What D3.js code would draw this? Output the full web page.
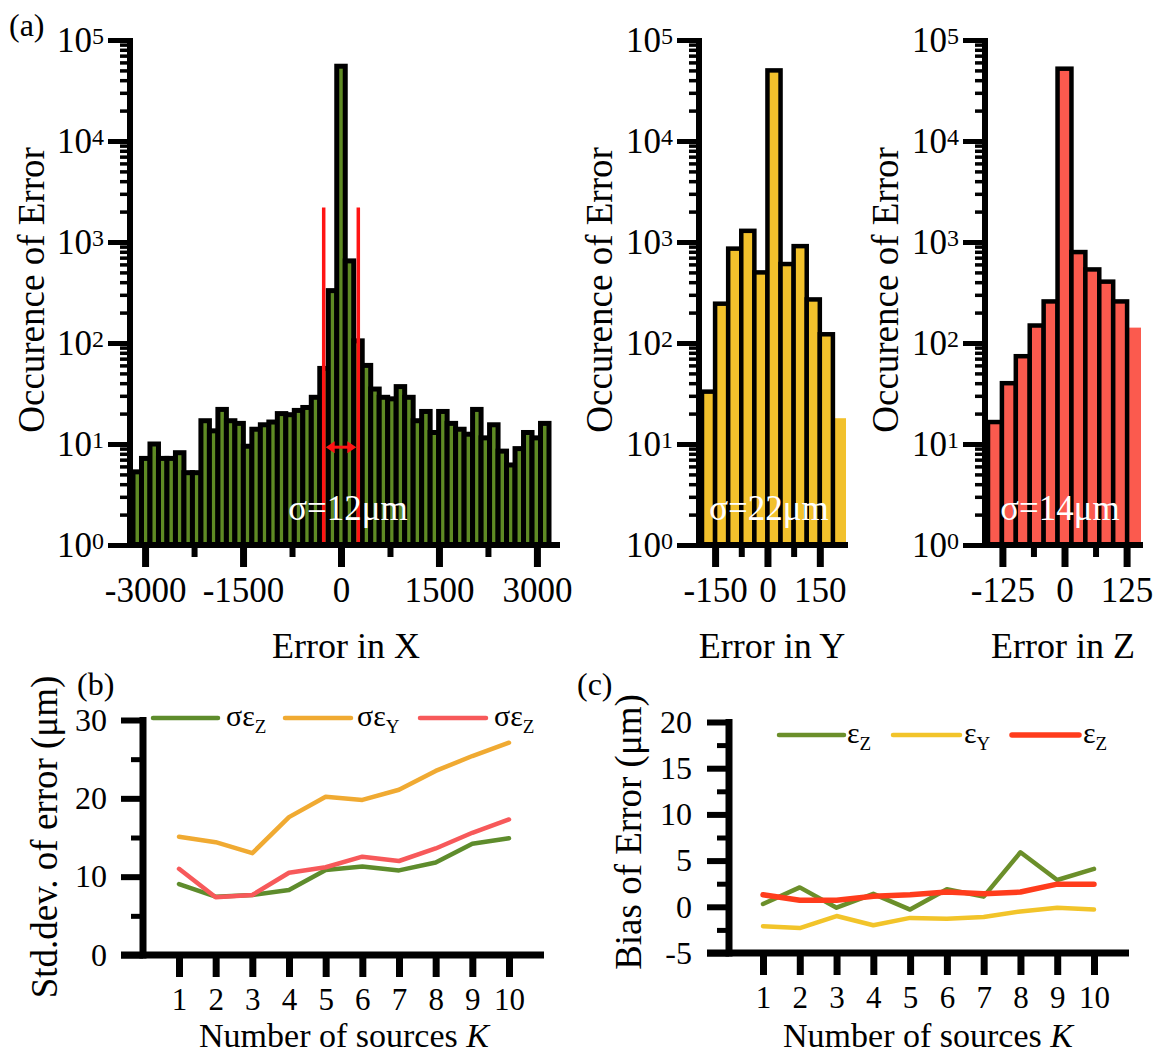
<!DOCTYPE html>
<html><head><meta charset="utf-8">
<script src="https://cdn.jsdelivr.net/npm/d3@7"></script>
<style>
html,body{margin:0;padding:0;background:#fff;}
svg{display:block;}
</style></head><body>
<svg id="chart" width="1170" height="1057"></svg>
<script>
// ---------------- DATA ----------------
const xBinCenters = [-3120,-2990,-2860,-2730,-2600,-2470,-2340,-2210,-2080,-1950,-1820,-1690,-1560,-1430,-1300,-1170,-1040,-910,-780,-650,-520,-390,-260,-130,0,130,260,390,520,650,780,910,1040,1170,1300,1430,1560,1690,1820,1950,2080,2210,2340,2470,2600,2730,2860,2990,3120];
const xCounts = [5.3,7.2,10,7.2,7.2,8.2,5.2,5.2,17,13.5,22,17,16,9.5,14,15.5,16.5,20,19.5,21.5,23,29,56,330,
                 55000,
                 650,105,60,35,29,28,37,29,17,21,13,21,16,14,12.5,22,11.5,15.5,8.5,6.2,9,13,11.5,16];
const xBinWidth = 130;
const yBinCenters = [-168.75,-131.25,-93.75,-56.25,-18.75,18.75,56.25,93.75,131.25,168.75,206.25];
const yCounts = [33,245,860,1290,500,50000,605,910,270,122,18];
const yBinWidth = 37.5;
const zBinCenters = [-140,-112,-84,-56,-28,0,28,56,84,112,140];
const zCounts = [16.5,40,74,149,258,52000,795,535,405,258,142];
const zBinWidth = 28;

const xTickMajor = [-3000,-1500,0,1500,3000];
const xTickMinor = [-2250,-750,750,2250];
const yTickMajor = [-150,0,150];
const yTickMinor = [-75,75];
const zTickMajor = [-125,0,125];
const zTickMinor = [-62.5,62.5];
const logMajor = [1,10,100,1000,10000,100000];
const logMinorMultipliers = [2,3,4,5,6,7,8,9];

const sigmaLinesX = [-265,265];
const sigmaLineTop = 2200;
const sigmaArrowLevel = 9.3;
const sigmaLabels = ["σ=12μm","σ=22μm","σ=14μm"];
const histTitles = ["Error in X","Error in Y","Error in Z"];

const K = [1,2,3,4,5,6,7,8,9,10];
const stdX = [9.06,7.45,7.66,8.3,10.85,11.3,10.8,11.8,14.2,14.9];
const stdY = [15.1,14.4,13.0,17.6,20.2,19.8,21.1,23.5,25.4,27.1];
const stdZ = [11.0,7.36,7.66,10.5,11.2,12.55,12.0,13.6,15.6,17.3];
const biasX = [0.3,2.1,-0.1,1.4,-0.3,1.9,1.1,5.9,2.9,4.1];
const biasY = [-2.1,-2.3,-1.0,-2.0,-1.2,-1.3,-1.1,-0.5,-0.1,-0.3];
const biasZ = [1.3,0.7,0.7,1.15,1.3,1.6,1.4,1.6,2.45,2.45];
const stdTicks = [0,10,20,30];
const stdMinor = [5,15,25];
const biasTicks = [-5,0,5,10,15,20];
const biasMinor = [-2.5,2.5,7.5,12.5,17.5];
const legendSubs = ["Z","Y","Z"];

// ---------------- DRAW ----------------
const SERIF = '"Liberation Serif","Times New Roman",Times,serif';
const svg = d3.select('#chart').attr('font-family', SERIF);
const HB = 545, HT = 40;
const logMinor = logMajor.slice(0,-1).flatMap(d => logMinorMultipliers.map(m => d*m));

function styleAxis(g, sw, fs) {
  g.select('.domain').remove();
  g.attr('font-family', SERIF).attr('font-size', fs);
  g.selectAll('.tick line').attr('stroke', '#000').attr('stroke-width', sw);
  g.selectAll('.tick text').attr('fill', '#000');
}

function histPanel(o) {
  const g = svg.append('g');
  const x = d3.scaleLinear().domain(o.xDomain).range(o.xRange);
  const y = d3.scaleLog().domain([1, 1e5]).range([HB, HT]);
  const n = o.centers.length;
  const data = o.centers.map((c, i) => ({c, v: o.counts[i], i}));
  const ordered = o.lastNoStroke ? [data[n-1]].concat(data.slice(0, n-1)) : data;
  g.selectAll('rect').data(ordered).join('rect')
    .attr('x', d => x(d.c - o.bw/2))
    .attr('width', d => x(d.c + o.bw/2) - x(d.c - o.bw/2))
    .attr('y', d => y(d.v))
    .attr('height', d => y(1) - y(d.v))
    .attr('fill', o.fill)
    .attr('stroke', d => (o.lastNoStroke && d.i === n-1) ? 'none' : '#000')
    .attr('stroke-width', o.sw);

  if (o.sigmaLines) {
    o.sigmaLines.forEach(v => {
      g.append('line').attr('x1', x(v)).attr('x2', x(v))
        .attr('y1', y(1)).attr('y2', y(sigmaLineTop))
        .attr('stroke', '#ff1414').attr('stroke-width', 3.5);
    });
    const ya = y(sigmaArrowLevel), xa = x(o.sigmaLines[0]) + 2, xb = x(o.sigmaLines[1]) - 2;
    g.append('line').attr('x1', xa + 6).attr('x2', xb - 6).attr('y1', ya).attr('y2', ya)
      .attr('stroke', '#ff1414').attr('stroke-width', 3);
    g.append('path').attr('d', `M${xa},${ya} L${xa+9},${ya-6} L${xa+9},${ya+6} Z`).attr('fill', '#ff1414');
    g.append('path').attr('d', `M${xb},${ya} L${xb-9},${ya-6} L${xb-9},${ya+6} Z`).attr('fill', '#ff1414');
  }

  // y axis
  const aMin = g.append('g').attr('transform', `translate(${o.axisX},0)`)
    .call(d3.axisLeft(y).tickValues(logMinor).tickSize(10).tickFormat(''));
  styleAxis(aMin, 3.5, 35);
  const aMaj = g.append('g').attr('transform', `translate(${o.axisX},0)`)
    .call(d3.axisLeft(y).tickValues(logMajor).tickSize(22).tickPadding(4).tickFormat(''));
  styleAxis(aMaj, 5, 35);
  aMaj.selectAll('.tick text').each(function(d) {
    const t = d3.select(this);
    t.text(null);
    t.append('tspan').text('10');
    t.append('tspan').text(Math.round(Math.log10(d))).attr('font-size', 24).attr('dy', '-0.32em');
  });
  g.append('line').attr('x1', o.axisX).attr('x2', o.axisX).attr('y1', y(1e5) - 2).attr('y2', y(1) + 3)
    .attr('stroke', '#000').attr('stroke-width', 6);

  // x axis
  const bMin = g.append('g').attr('transform', `translate(0,${HB})`)
    .call(d3.axisBottom(x).tickValues(o.xMinor).tickSize(12).tickFormat(''));
  styleAxis(bMin, 6, 35);
  const bMaj = g.append('g').attr('transform', `translate(0,${HB})`)
    .call(d3.axisBottom(x).tickValues(o.xMajor).tickSize(22).tickPadding(10).tickFormat(d => String(d)));
  styleAxis(bMaj, 7, 35);
  g.append('line').attr('x1', o.axisX).attr('x2', o.xLineEnd).attr('y1', HB).attr('y2', HB)
    .attr('stroke', '#000').attr('stroke-width', 6);

  // titles
  g.append('text').attr('transform', `translate(${o.yTitleX},290) rotate(-90)`)
    .attr('text-anchor', 'middle').attr('font-size', 37).text('Occurence of Error');
  g.append('text').attr('x', o.xTitleX).attr('y', 658).attr('text-anchor', 'middle')
    .attr('font-size', 36).text(o.xTitle);
  g.append('text').attr('x', o.sigmaX).attr('y', 520).attr('text-anchor', 'middle')
    .attr('font-size', 35).attr('fill', '#fff').text(o.sigma);
}

histPanel({centers: xBinCenters, counts: xCounts, bw: xBinWidth, fill: '#5f8b24', sw: 5,
  xDomain: [-3185, 3185], xRange: [133, 549], axisX: 130, xLineEnd: 560,
  xMajor: xTickMajor, xMinor: xTickMinor, yTitleX: 44, xTitleX: 346, xTitle: histTitles[0],
  sigma: sigmaLabels[0], sigmaX: 348, sigmaLines: sigmaLinesX});
histPanel({centers: yBinCenters, counts: yCounts, bw: yBinWidth, fill: '#f2c12c', sw: 4.5, lastNoStroke: true,
  xDomain: [-187.5, 225], xRange: [702, 846], axisX: 699, xLineEnd: 848,
  xMajor: yTickMajor, xMinor: yTickMinor, yTitleX: 612, xTitleX: 772, xTitle: histTitles[1],
  sigma: sigmaLabels[1], sigmaX: 769});
histPanel({centers: zBinCenters, counts: zCounts, bw: zBinWidth, fill: '#fb5a4e', sw: 4.5, lastNoStroke: true,
  xDomain: [-154, 154], xRange: [988, 1141], axisX: 985, xLineEnd: 1143,
  xMajor: zTickMajor, xMinor: zTickMinor, yTitleX: 898, xTitleX: 1063, xTitle: histTitles[2],
  sigma: sigmaLabels[2], sigmaX: 1060});

function linePanel(o) {
  const g = svg.append('g');
  const x = d3.scaleLinear().domain([1, 10]).range(o.xRange);
  const y = d3.scaleLinear().domain(o.yDomain).range(o.yRange);
  const y0 = o.yRange[0];

  o.series.forEach(s => {
    g.append('path').datum(s.values)
      .attr('d', d3.line().x((d, i) => x(K[i])).y(d => y(d)))
      .attr('fill', 'none').attr('stroke', s.color).attr('stroke-width', s.w)
      .attr('stroke-linejoin', 'round').attr('stroke-linecap', 'round');
  });

  const aMin = g.append('g').attr('transform', `translate(${o.axisX},0)`)
    .call(d3.axisLeft(y).tickValues(o.minor).tickSize(12).tickFormat(''));
  styleAxis(aMin, 5, 32);
  const aMaj = g.append('g').attr('transform', `translate(${o.axisX},0)`)
    .call(d3.axisLeft(y).tickValues(o.major).tickSize(22).tickPadding(o.yPad).tickFormat(d => String(d)));
  styleAxis(aMaj, 6, 32);
  g.append('line').attr('x1', o.axisX).attr('x2', o.axisX).attr('y1', o.yRange[1] - 3).attr('y2', y0 + 3.5)
    .attr('stroke', '#000').attr('stroke-width', 7);

  const bMaj = g.append('g').attr('transform', `translate(0,${y0})`)
    .call(d3.axisBottom(x).tickValues(K).tickSize(22).tickPadding(11).tickFormat(d => String(d)));
  styleAxis(bMaj, 7, 31);
  g.append('line').attr('x1', o.axisX - 22).attr('x2', o.xLineEnd).attr('y1', y0).attr('y2', y0)
    .attr('stroke', '#000').attr('stroke-width', 7);

  // legend
  o.series.forEach((s, i) => {
    const L = o.legend[i];
    g.append('line').attr('x1', L[0]).attr('x2', L[1]).attr('y1', o.legendY).attr('y2', o.legendY)
      .attr('stroke', s.color).attr('stroke-width', s.w).attr('stroke-linecap', 'round');
    const t = g.append('text').attr('x', L[2]).attr('y', o.legendY + 8).attr('font-size', 30);
    t.append('tspan').text(o.legendSym);
    t.append('tspan').text(legendSubs[i]).attr('font-size', 19).attr('dy', 7);
  });

  g.append('text').attr('transform', `translate(${o.yTitleX},${o.yTitleY}) rotate(-90)`)
    .attr('text-anchor', 'middle').attr('font-size', 37).text(o.yTitle);
  const xt = g.append('text').attr('x', o.xTitleX).attr('y', 1047).attr('text-anchor', 'middle').attr('font-size', 34);
  xt.append('tspan').text('Number of sources ');
  xt.append('tspan').attr('font-style', 'italic').text('K');
}

linePanel({xRange: [179, 509], yDomain: [0, 30], yRange: [955, 720], axisX: 143, xLineEnd: 544,
  major: stdTicks, minor: stdMinor, yPad: 14,
  series: [{values: stdX, color: '#5e8c2c', w: 4.5}, {values: stdY, color: '#f0aa32', w: 4.5}, {values: stdZ, color: '#f7595a', w: 4.5}],
  legend: [[153, 218, 226], [285, 351, 357], [420, 486, 494]], legendY: 718, legendSym: 'σε',
  yTitle: 'Std.dev. of error (μm)', yTitleX: 57, yTitleY: 837, xTitleX: 344});

linePanel({xRange: [763, 1094], yDomain: [-5, 20], yRange: [953, 722], axisX: 729, xLineEnd: 1129,
  major: biasTicks, minor: biasMinor, yPad: 15,
  series: [{values: biasX, color: '#6b8f2a', w: 4.5}, {values: biasY, color: '#f2c42a', w: 4.5}, {values: biasZ, color: '#ff3c1c', w: 5.5}],
  legend: [[779, 844, 847], [893, 960, 964], [1012, 1079, 1083]], legendY: 735, legendSym: 'ε',
  yTitle: 'Bias of Error (μm)', yTitleX: 641, yTitleY: 832, xTitleX: 928});

// panel letters
svg.append('text').attr('x', 9).attr('y', 36).attr('font-size', 32).text('(a)');
svg.append('text').attr('x', 77).attr('y', 695).attr('font-size', 32).text('(b)');
svg.append('text').attr('x', 577).attr('y', 695).attr('font-size', 32).text('(c)');
</script>
</body></html>
